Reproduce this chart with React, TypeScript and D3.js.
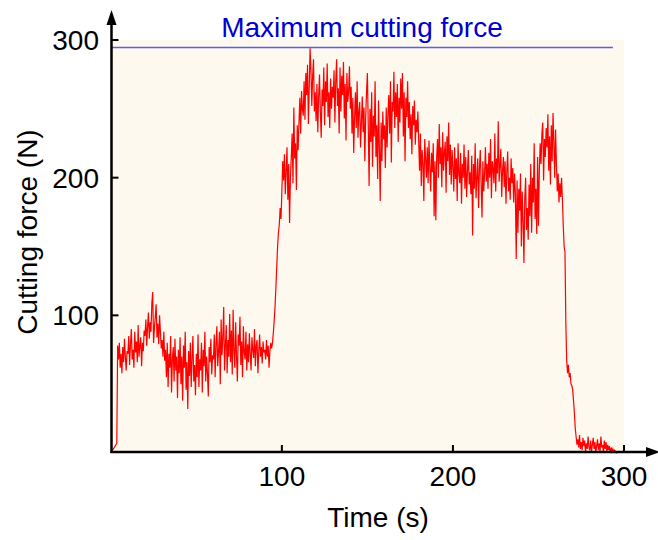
import React from "react";
import * as d3 from "d3";

// Sampling step of the force record (s)
const timeStep = 0.5;
// Cutting force samples (N), every 0.5 s from t = 0
const forceValues: number[] = [
  // 0-9.5
  0, 1, 2, 3, 4, 5, 6, 7, 78, 68, 80, 62, 72, 58, 77, 66, 83, 70, 60, 74,
  // 10-19.5
  72, 85, 64, 79, 90, 68, 75, 62, 88, 73, 81, 66, 93, 70, 78, 84, 63, 80, 74, 89,
  // 20-29.5
  85, 97, 78, 92, 102, 83, 95, 88, 109, 117, 80, 91, 99, 108, 84, 94, 79, 100, 88, 76,
  // 30-39.5
  82, 70, 88, 67, 75, 55, 80, 48, 72, 62, 85, 44, 68, 77, 52, 83, 60, 70, 40, 75,
  // 40-49.5
  58, 84, 50, 70, 38, 78, 62, 88, 46, 66, 32, 74, 56, 80, 48, 69, 85, 52, 64, 42,
  // 50-59.5
  72, 55, 86, 48, 68, 60, 80, 44, 75, 63, 88, 52, 70, 58, 41, 77, 66, 83, 57, 71,
  // 60-69.5
  68, 86, 55, 79, 92, 63, 74, 88, 50, 97, 71, 84, 106, 60, 78, 93, 58, 82, 70, 101,
  // 70-79.5
  66, 89, 57, 104, 74, 62, 95, 70, 52, 86, 78, 99, 64, 81, 55, 92, 73, 68, 88, 60,
  // 80-89.5
  79, 66, 87, 72, 60, 84, 75, 69, 90, 63, 78, 82, 58, 74, 86, 70, 77, 65, 81, 73,
  // 90-99.5
  75, 68, 82, 70, 78, 62, 74, 80, 76, 80, 87, 96, 106, 120, 135, 150, 160, 166, 178, 170,
  // 100-109.5
  190, 212, 198, 217, 188, 205, 222, 184, 210, 167, 200, 215, 232, 196, 251, 214, 225, 191, 238, 220,
  // 110-119.5
  240, 258, 232, 263, 250, 245, 270, 242, 276, 260, 282, 239, 266, 294, 278, 252, 274, 286, 248, 262,
  // 120-129.5
  241, 268, 233, 259, 275, 248, 229, 264, 252, 280, 238, 270, 255, 283, 244, 262, 236, 272, 250, 266,
  // 130-139.5
  258, 278, 240, 270, 286, 252, 265, 232, 280, 248, 274, 260, 284, 243, 268, 227, 276, 255, 262, 281,
  // 140-149.5
  250, 266, 232, 258, 218, 244, 262, 236, 270, 229, 248, 255, 222, 240, 259, 233, 251, 212, 244, 262,
  // 150-159.5
  276, 238, 194, 250, 226, 262, 208, 245, 230, 270, 215, 238, 199, 256, 222, 183, 240, 212, 248, 228,
  // 160-169.5
  238, 207, 251, 222, 246, 260, 232, 270, 211, 255, 248, 277, 236, 262, 244, 268, 226, 258, 240, 272,
  // 170-179.5
  250, 276, 230, 262, 212, 258, 244, 270, 236, 255, 228, 246, 217, 252, 238, 256, 224, 242, 233, 248,
  // 180-189.5
  226, 205, 232, 194, 220, 210, 183, 228, 214, 200, 222, 196, 227, 208, 190, 218, 204, 225, 172, 212,
  // 190-199.5
  169, 215, 228, 200, 239, 210, 222, 193, 233, 205, 218, 226, 189, 230, 212, 240, 202, 224, 195, 220,
  // 200-209.5
  208, 190, 222, 199, 214, 183, 225, 203, 196, 218, 181, 210, 200, 224, 192, 215, 186, 205, 220, 195,
  // 210-219.5
  204, 188, 216, 158, 210, 192, 225, 185, 200, 214, 178, 207, 220, 195, 171, 212, 190, 203, 222, 197,
  // 220-229.5
  210, 192, 218, 200, 228, 185, 212, 206, 196, 232, 190, 214, 203, 241, 197, 209, 221, 186, 205, 215,
  // 230-239.5
  193, 212, 181, 205, 219, 190, 200, 184, 214, 196, 207, 182, 203, 188, 141, 198, 160, 192, 176, 203,
  // 240-249.5
  150, 190, 168, 138, 185, 200, 162, 178, 155, 195, 172, 210, 160, 200, 182, 225, 170, 192, 159, 215,
  // 250-259.5
  165, 205, 225, 210, 232, 240, 198, 228, 215, 236, 222, 246, 205, 230, 195, 238, 212, 247, 226, 200,
  // 260-269.5
  235, 210, 190, 203, 182, 196, 186, 200, 184, 165, 150, 146, 95, 67, 58, 64, 55, 58, 50, 49,
  // 270-279.5
  46, 38, 29, 18, 12, 6, 10, 4, 13, 3, 8, 2, 11, 5, 9, 1, 7, 3, 12, 4,
  // 280-289.5
  2, 9, 1, 6, 11, 3, 8, 0, 5, 10, 2, 7, 1, 12, 4, 6, 0, 9, 3, 8,
  // 290-296
  1, 6, 2, 5, 0, 4, 1, 3, 0, 2, 1, 0, 0,
];

const xTicks = [100, 200, 300];
const yTicks = [100, 200, 300];
const maxForce = 294.5;
const maxForceEnd = 293.5;
const maxLabel = "Maximum cutting force";
const xTitle = "Time (s)";
const yTitle = "Cutting force (N)";

export default function App() {
  const W = 658;
  const H = 540;
  const x = d3.scaleLinear().domain([0, 300]).range([110.8, 624]);
  const y = d3.scaleLinear().domain([0, 300]).range([453, 40]);
  const data = forceValues.map((v, i) => [i * timeStep, v] as [number, number]);
  const line = d3
    .line<[number, number]>()
    .x((d) => x(d[0]))
    .y((d) => y(d[1]));
  const axisX = 111.5;
  const axisY = 452;
  const font = "Arial, 'Liberation Sans', Helvetica, sans-serif";

  return (
    <div style={{ position: "absolute", left: 0, top: 0 }}>
      <svg width={W} height={H} style={{ display: "block" }} fontFamily={font}>
        <rect x={0} y={0} width={W} height={H} fill="#ffffff" />
        <rect
          x={axisX}
          y={y(300)}
          width={x(300) - axisX}
          height={axisY - y(300)}
          fill="#fdf9ef"
        />
        <line
          x1={axisX}
          x2={x(maxForceEnd)}
          y1={y(maxForce)}
          y2={y(maxForce)}
          stroke="#5c5cf2"
          strokeWidth={1.6}
        />
        <text x={x(64.5)} y={37} fontSize={28} fill="#0000cc">
          {maxLabel}
        </text>
        <path d={line(data) || ""} fill="none" stroke="#ff0000" strokeWidth={1.2} />
        {/* axes */}
        <line x1={axisX} x2={axisX} y1={axisY + 1} y2={22} stroke="#000" strokeWidth={2.5} />
        <path d={`M${axisX},10 L${axisX - 5},25 L${axisX + 5},25 Z`} fill="#000" />
        <line x1={axisX - 1} x2={650} y1={axisY} y2={axisY} stroke="#000" strokeWidth={2.5} />
        <path d={`M660,${axisY} L646,${axisY - 5} L646,${axisY + 5} Z`} fill="#000" />
        {yTicks.map((t) => (
          <g key={"y" + t}>
            <line x1={axisX} x2={axisX + 7} y1={y(t)} y2={y(t)} stroke="#000" strokeWidth={2} />
            <text x={99} y={y(t) + 10} fontSize={28} textAnchor="end" fill="#000">
              {t}
            </text>
          </g>
        ))}
        {xTicks.map((t) => (
          <g key={"x" + t}>
            <line x1={x(t)} x2={x(t)} y1={axisY} y2={axisY - 7} stroke="#000" strokeWidth={2} />
            <text x={x(t)} y={486} fontSize={28} textAnchor="middle" fill="#000">
              {t}
            </text>
          </g>
        ))}
        <text x={378} y={527} fontSize={28} textAnchor="middle" fill="#000">
          {xTitle}
        </text>
        <text
          transform={`translate(37,232) rotate(-90)`}
          fontSize={28}
          textAnchor="middle"
          fill="#000"
        >
          {yTitle}
        </text>
      </svg>
    </div>
  );
}
